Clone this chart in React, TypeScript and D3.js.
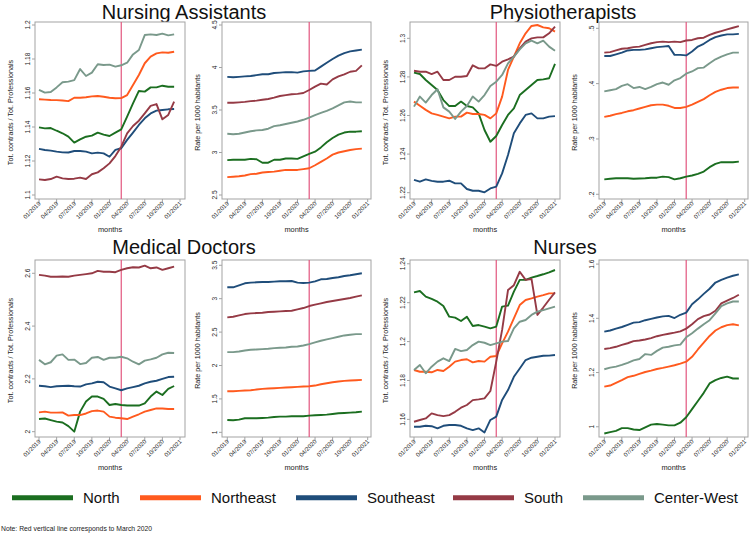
import React from 'react';
import * as d3 from 'd3';

const REGIONS = ['North', 'Northeast', 'Southeast', 'South', 'Center-West'];
const COLORS = ['#1b6e20', '#ff5a1e', '#1f4d7a', '#953a45', '#7a998b'];
const X_TICK_MONTHS = [0, 3, 6, 9, 12, 15, 18, 21, 24];
const X_TICK_LABELS = ['01/2019', '04/2019', '07/2019', '10/2019', '01/2020', '04/2020', '07/2020', '10/2020', '01/2021'];
const MARCH_2020 = 14;
const NOTE = 'Note: Red vertical line corresponds to March 2020';

// Nursing Assistants – ratio
const naRatio: Record<string, number[]> = {
  North: [1.1398, 1.1392, 1.1394, 1.1378, 1.1363, 1.1343, 1.1308, 1.1327, 1.1343, 1.1349, 1.1367, 1.1355, 1.1347, 1.1367, 1.1386, 1.1461, 1.1539, 1.1612, 1.1608, 1.1633, 1.1633, 1.1643, 1.1637, 1.1637],
  Northeast: [1.1563, 1.1561, 1.1559, 1.1558, 1.1556, 1.1552, 1.1572, 1.1572, 1.1575, 1.158, 1.1582, 1.1578, 1.1572, 1.1569, 1.157, 1.1588, 1.1647, 1.1706, 1.1775, 1.1814, 1.1833, 1.1839, 1.1837, 1.1843],
  Southeast: [1.1271, 1.1265, 1.1261, 1.1255, 1.1251, 1.125, 1.1259, 1.1259, 1.1255, 1.1245, 1.1249, 1.1245, 1.1225, 1.1265, 1.1275, 1.1324, 1.1367, 1.1412, 1.1451, 1.148, 1.1496, 1.15, 1.1504, 1.1506],
  South: [1.1092, 1.1088, 1.1094, 1.1108, 1.1098, 1.1094, 1.1096, 1.1102, 1.1094, 1.1122, 1.1133, 1.1157, 1.1186, 1.1229, 1.1284, 1.1363, 1.1406, 1.1437, 1.148, 1.1524, 1.1535, 1.1445, 1.1471, 1.1549],
  'Center-West': [1.1618, 1.1602, 1.1606, 1.1633, 1.1663, 1.1667, 1.1676, 1.1741, 1.17, 1.172, 1.1769, 1.1765, 1.1767, 1.1755, 1.1763, 1.1778, 1.1827, 1.1853, 1.1941, 1.1945, 1.1941, 1.1949, 1.1939, 1.1945],
};
// Nursing Assistants – rate
const naRate: Record<string, number[]> = {
  North: [2.91, 2.915, 2.915, 2.915, 2.925, 2.92, 2.88, 2.88, 2.915, 2.915, 2.93, 2.93, 2.925, 2.955, 2.985, 3.01, 3.06, 3.12, 3.17, 3.21, 3.235, 3.245, 3.245, 3.25],
  Northeast: [2.71, 2.715, 2.72, 2.73, 2.745, 2.75, 2.765, 2.77, 2.775, 2.785, 2.795, 2.795, 2.795, 2.805, 2.815, 2.85, 2.89, 2.93, 2.975, 3.0, 3.015, 3.03, 3.04, 3.045],
  Southeast: [3.89, 3.885, 3.89, 3.895, 3.9, 3.91, 3.92, 3.92, 3.935, 3.94, 3.945, 3.945, 3.94, 3.955, 3.96, 3.965, 4.01, 4.055, 4.1, 4.14, 4.17, 4.19, 4.2, 4.21],
  South: [3.585, 3.585, 3.59, 3.595, 3.605, 3.61, 3.62, 3.63, 3.645, 3.665, 3.675, 3.685, 3.69, 3.7, 3.735, 3.775, 3.81, 3.8, 3.86, 3.895, 3.92, 3.95, 3.96, 4.025],
  'Center-West': [3.22, 3.215, 3.22, 3.235, 3.25, 3.26, 3.265, 3.28, 3.31, 3.32, 3.335, 3.35, 3.365, 3.385, 3.41, 3.44, 3.465, 3.49, 3.52, 3.555, 3.59, 3.6, 3.59, 3.59],
};
// Physiotherapists – ratio
const phRatio: Record<string, number[]> = {
  North: [1.2822, 1.2815, 1.2784, 1.2758, 1.2732, 1.268, 1.2649, 1.2649, 1.2672, 1.2649, 1.2642, 1.2611, 1.2525, 1.2464, 1.2494, 1.2551, 1.2603, 1.2637, 1.2706, 1.2732, 1.2758, 1.2784, 1.2787, 1.2793, 1.2867],
  Northeast: [1.2672, 1.265, 1.2629, 1.2611, 1.2603, 1.2594, 1.2585, 1.2594, 1.2594, 1.2615, 1.2608, 1.2608, 1.2603, 1.2585, 1.2611, 1.2698, 1.2836, 1.2905, 1.2974, 1.3026, 1.3064, 1.3069, 1.3057, 1.3052, 1.3035],
  Southeast: [1.2266, 1.2257, 1.2269, 1.2261, 1.2257, 1.2257, 1.2262, 1.2248, 1.2248, 1.2219, 1.221, 1.221, 1.2202, 1.2222, 1.2231, 1.23, 1.2395, 1.2508, 1.2559, 1.2603, 1.2611, 1.2585, 1.2585, 1.2594, 1.2597],
  South: [1.2832, 1.2827, 1.2827, 1.2815, 1.2827, 1.2784, 1.2784, 1.2801, 1.2801, 1.2805, 1.286, 1.2844, 1.2844, 1.2865, 1.2857, 1.2879, 1.2891, 1.2905, 1.2948, 1.2983, 1.3, 1.3005, 1.3005, 1.3026, 1.306],
  'Center-West': [1.2646, 1.2698, 1.2667, 1.2706, 1.2736, 1.2642, 1.262, 1.2582, 1.262, 1.2649, 1.2698, 1.2672, 1.2706, 1.2753, 1.2775, 1.281, 1.287, 1.2905, 1.2943, 1.2974, 1.2988, 1.2974, 1.2988, 1.2957, 1.2936],
};
// Physiotherapists – rate
const phRate: Record<string, number[]> = {
  North: [0.227, 0.228, 0.229, 0.229, 0.229, 0.228, 0.2285, 0.229, 0.23, 0.23, 0.232, 0.231, 0.227, 0.229, 0.232, 0.234, 0.237, 0.241, 0.249, 0.255, 0.258, 0.258, 0.258, 0.259],
  Northeast: [0.34, 0.342, 0.345, 0.347, 0.35, 0.352, 0.355, 0.358, 0.361, 0.362, 0.362, 0.36, 0.356, 0.356, 0.358, 0.362, 0.367, 0.372, 0.379, 0.385, 0.389, 0.392, 0.393, 0.393],
  Southeast: [0.45, 0.45, 0.453, 0.456, 0.46, 0.461, 0.461, 0.462, 0.464, 0.466, 0.467, 0.468, 0.452, 0.452, 0.451, 0.458, 0.467, 0.472, 0.479, 0.484, 0.487, 0.489, 0.489, 0.49],
  South: [0.456, 0.457, 0.46, 0.463, 0.464, 0.466, 0.467, 0.47, 0.473, 0.475, 0.476, 0.475, 0.476, 0.475, 0.478, 0.479, 0.482, 0.483, 0.488, 0.492, 0.495, 0.498, 0.501, 0.504],
  'Center-West': [0.386, 0.388, 0.39, 0.396, 0.399, 0.392, 0.394, 0.39, 0.394, 0.399, 0.402, 0.398, 0.406, 0.41, 0.418, 0.422, 0.428, 0.429, 0.437, 0.444, 0.449, 0.453, 0.456, 0.456],
};
// Medical Doctors – ratio
const mdRatio: Record<string, number[]> = {
  North: [2.048, 2.05, 2.044, 2.038, 2.035, 2.021, 2.0, 2.076, 2.114, 2.133, 2.133, 2.124, 2.101, 2.105, 2.101, 2.099, 2.099, 2.099, 2.107, 2.133, 2.152, 2.139, 2.162, 2.173],
  Northeast: [2.073, 2.076, 2.072, 2.072, 2.073, 2.061, 2.063, 2.063, 2.069, 2.078, 2.08, 2.076, 2.057, 2.053, 2.051, 2.048, 2.057, 2.066, 2.076, 2.082, 2.088, 2.088, 2.086, 2.086],
  Southeast: [2.174, 2.172, 2.169, 2.172, 2.173, 2.174, 2.172, 2.171, 2.179, 2.183, 2.189, 2.187, 2.171, 2.164, 2.157, 2.164, 2.169, 2.174, 2.183, 2.189, 2.193, 2.2, 2.207, 2.208],
  South: [2.594, 2.591, 2.587, 2.587, 2.588, 2.587, 2.591, 2.594, 2.597, 2.6, 2.609, 2.606, 2.606, 2.604, 2.613, 2.619, 2.623, 2.622, 2.629, 2.619, 2.622, 2.613, 2.619, 2.625],
  'Center-West': [2.272, 2.255, 2.263, 2.288, 2.293, 2.272, 2.273, 2.256, 2.26, 2.28, 2.283, 2.272, 2.28, 2.28, 2.284, 2.278, 2.265, 2.255, 2.269, 2.274, 2.28, 2.293, 2.299, 2.298],
};
// Medical Doctors – rate
const mdRate: Record<string, number[]> = {
  North: [1.185, 1.18, 1.19, 1.21, 1.21, 1.21, 1.215, 1.22, 1.23, 1.235, 1.235, 1.24, 1.24, 1.24, 1.25, 1.255, 1.26, 1.265, 1.275, 1.285, 1.29, 1.295, 1.3, 1.31],
  Northeast: [1.615, 1.615, 1.62, 1.625, 1.63, 1.64, 1.65, 1.655, 1.66, 1.665, 1.67, 1.675, 1.68, 1.685, 1.69, 1.7, 1.72, 1.735, 1.75, 1.76, 1.77, 1.775, 1.78, 1.785],
  Southeast: [3.17, 3.17, 3.2, 3.23, 3.24, 3.245, 3.25, 3.25, 3.255, 3.26, 3.26, 3.265, 3.24, 3.235, 3.24, 3.26, 3.29, 3.295, 3.31, 3.32, 3.34, 3.35, 3.365, 3.38],
  South: [2.72, 2.73, 2.75, 2.77, 2.78, 2.785, 2.79, 2.8, 2.805, 2.81, 2.815, 2.82, 2.84, 2.86, 2.89, 2.91, 2.93, 2.95, 2.965, 2.98, 2.995, 3.01, 3.03, 3.05],
  'Center-West': [2.2, 2.2, 2.21, 2.225, 2.235, 2.24, 2.245, 2.25, 2.26, 2.265, 2.27, 2.28, 2.285, 2.3, 2.32, 2.345, 2.37, 2.39, 2.41, 2.43, 2.45, 2.46, 2.47, 2.47],
};
// Nurses – ratio
const nuRatio: Record<string, number[]> = {
  North: [1.2253, 1.226, 1.2231, 1.2219, 1.2205, 1.2183, 1.2128, 1.2123, 1.2106, 1.2128, 1.208, 1.2085, 1.2077, 1.2068, 1.2077, 1.218, 1.2185, 1.2257, 1.2317, 1.2317, 1.2329, 1.2337, 1.2346, 1.2356, 1.2368],
  Northeast: [1.1854, 1.1845, 1.1845, 1.1842, 1.1854, 1.1849, 1.1871, 1.1897, 1.1905, 1.1909, 1.1893, 1.19, 1.1897, 1.1922, 1.1926, 1.1991, 1.2051, 1.2119, 1.2188, 1.2214, 1.2222, 1.2231, 1.2239, 1.2248, 1.2248],
  Southeast: [1.1562, 1.1562, 1.1567, 1.1565, 1.1554, 1.1567, 1.1571, 1.1571, 1.1567, 1.1554, 1.1545, 1.1554, 1.1533, 1.1597, 1.1614, 1.17, 1.1751, 1.1819, 1.1862, 1.1905, 1.1917, 1.1922, 1.1927, 1.1928, 1.1931],
  South: [1.1588, 1.1597, 1.1605, 1.1631, 1.1622, 1.1617, 1.1622, 1.1639, 1.166, 1.1674, 1.1699, 1.1703, 1.1708, 1.1746, 1.1897, 1.206, 1.2265, 1.229, 1.2359, 1.2317, 1.2322, 1.2137, 1.2175, 1.2215, 1.2253],
  'Center-West': [1.1854, 1.188, 1.1837, 1.1871, 1.1897, 1.1914, 1.19, 1.1962, 1.1951, 1.1957, 1.1982, 1.2, 1.1994, 1.1982, 1.1991, 1.2, 1.2003, 1.2068, 1.2102, 1.2111, 1.2137, 1.2154, 1.2162, 1.2171, 1.218],
};
// Nurses – rate
const nuRate: Record<string, number[]> = {
  North: [0.975, 0.98, 0.985, 0.995, 0.995, 0.99, 0.988, 0.998, 1.008, 1.01, 1.008, 1.005, 1.005, 1.015, 1.035, 1.065, 1.095, 1.125, 1.16, 1.172, 1.18, 1.185, 1.178, 1.178],
  Northeast: [1.148, 1.152, 1.162, 1.172, 1.183, 1.188, 1.195, 1.202, 1.207, 1.213, 1.217, 1.222, 1.227, 1.233, 1.24, 1.258, 1.285, 1.31, 1.335, 1.355, 1.367, 1.375, 1.378, 1.374],
  Southeast: [1.351, 1.355, 1.362, 1.368, 1.376, 1.384, 1.386, 1.393, 1.398, 1.403, 1.407, 1.409, 1.401, 1.413, 1.421, 1.452, 1.47, 1.49, 1.509, 1.532, 1.542, 1.55, 1.557, 1.562],
  South: [1.287, 1.29, 1.295, 1.302, 1.308, 1.316, 1.318, 1.322, 1.327, 1.334, 1.339, 1.343, 1.347, 1.352, 1.362, 1.378, 1.397, 1.408, 1.414, 1.428, 1.455, 1.465, 1.475, 1.487],
  'Center-West': [1.212, 1.218, 1.222, 1.228, 1.236, 1.245, 1.25, 1.268, 1.265, 1.28, 1.292, 1.295, 1.3, 1.303, 1.33, 1.345, 1.362, 1.378, 1.393, 1.418, 1.445, 1.455, 1.462, 1.462],
};

const TITLES = ['Nursing Assistants', 'Physiotherapists', 'Medical Doctors', 'Nurses'];
const Y_TITLE_RATIO = 'Tot. contracts / Tot. Professionals';
const Y_TITLE_RATE = 'Rate per 1000 habitants';

const naRatioTicks = [1.1, 1.12, 1.14, 1.16, 1.18, 1.2];
const naRateTicks = [2.5, 3, 3.5, 4, 4.5];
const phRatioTicks = [1.22, 1.24, 1.26, 1.28, 1.3];
const phRateTicks = [0.2, 0.3, 0.4, 0.5];
const mdRatioTicks = [2, 2.2, 2.4, 2.6];
const mdRateTicks = [1, 1.5, 2, 2.5, 3, 3.5];
const nuRatioTicks = [1.16, 1.18, 1.2, 1.22, 1.24];
const nuRateTicks = [1, 1.2, 1.4, 1.6];

type PanelDef = {
  row: number; pair: number; side: number;
  domain: [number, number]; ticks: number[]; series: Record<string, number[]>;
};

const PANELS: PanelDef[] = [
  { row: 0, pair: 0, side: 0, domain: [1.1, 1.2], ticks: naRatioTicks, series: naRatio },
  { row: 0, pair: 0, side: 1, domain: [2.5, 4.5], ticks: naRateTicks, series: naRate },
  { row: 0, pair: 1, side: 0, domain: [1.2188, 1.3069], ticks: phRatioTicks, series: phRatio },
  { row: 0, pair: 1, side: 1, domain: [0.1987, 0.506], ticks: phRateTicks, series: phRate },
  { row: 1, pair: 0, side: 0, domain: [1.995, 2.639], ticks: mdRatioTicks, series: mdRatio },
  { row: 1, pair: 0, side: 1, domain: [0.99, 3.534], ticks: mdRateTicks, series: mdRate },
  { row: 1, pair: 1, side: 0, domain: [1.153, 1.2404], ticks: nuRatioTicks, series: nuRatio },
  { row: 1, pair: 1, side: 1, domain: [0.977, 1.604], ticks: nuRateTicks, series: nuRate },
];

const FONT = '"Liberation Sans", Arial, Helvetica, sans-serif';
const FRAME = '#a3a3a3';
const RED = '#e2557e';

const fmtTick = (v: number) => String(+v.toFixed(3)).replace(/^0\./, '.');

function Panel({ p }: { p: PanelDef }) {
  const pairOff = p.pair === 0 ? 0 : 375;
  const extra = p.pair === 1 && p.side === 1 ? 2 : 0;
  const fx0 = (p.side === 0 ? 35 : 222) + pairOff + extra;
  const fx1 = (p.side === 0 ? 185 : 371) + pairOff + extra;
  const xa = (p.side === 0 ? 39 : 227.3) + pairOff + extra;
  const xb = (p.side === 0 ? 180 : 367.7) + pairOff + extra;
  const fy0 = p.row === 0 ? 22 : 260;
  const fy1 = p.row === 0 ? 199 : 437;
  const ya = p.row === 0 ? 195 : 433;
  const yb = p.row === 0 ? 25 : 263;

  const x = d3.scaleLinear().domain([0, 24]).range([xa, xb]);
  const y = d3.scaleLinear().domain(p.domain).range([ya, yb]);
  const line = d3.line<number>().x((_, i) => x(i)).y((d) => y(d));

  const yTitleX = fx0 - 22;
  const yMid = (fy0 + fy1) / 2 + 2;

  return (
    <g>
      <rect x={fx0} y={fy0} width={fx1 - fx0} height={fy1 - fy0} fill="white" stroke={FRAME} strokeWidth={1} />
      <line x1={x(MARCH_2020)} x2={x(MARCH_2020)} y1={fy0} y2={fy1} stroke={RED} strokeWidth={1.2} />
      {REGIONS.map((r, k) => (
        <path key={r} d={line(p.series[r]) || ''} fill="none" stroke={COLORS[k]} strokeWidth={1.9} strokeLinejoin="round" />
      ))}
      {p.ticks.map((t) => (
        <g key={t}>
          <line x1={fx0 - 3} x2={fx0} y1={y(t)} y2={y(t)} stroke={FRAME} />
          <text transform={`translate(${fx0 - 5},${y(t)}) rotate(-90)`} textAnchor="middle" fontSize={6.6} fontFamily={FONT} fill="#222">{fmtTick(t)}</text>
        </g>
      ))}
      {X_TICK_MONTHS.map((m, k) => (
        <g key={m}>
          <line x1={x(m)} x2={x(m)} y1={fy1} y2={fy1 + 3} stroke={FRAME} />
          <text transform={`translate(${x(m) + 2},${fy1 + 5}) rotate(-45)`} textAnchor="end" fontSize={6} fontFamily={FONT} fill="#222">{X_TICK_LABELS[k]}</text>
        </g>
      ))}
      <text x={(fx0 + fx1) / 2} y={fy1 + 33} textAnchor="middle" fontSize={7.4} fontFamily={FONT} fill="#222">months</text>
      <text transform={`translate(${yTitleX},${yMid}) rotate(-90)`} textAnchor="middle" fontSize={7.2} fontFamily={FONT} fill="#222">
        {p.side === 0 ? Y_TITLE_RATIO : Y_TITLE_RATE}
      </text>
    </g>
  );
}

const LEGEND_LINE_X = [12, 140, 296, 453, 583];

export default function App() {
  const titlePos = [
    { x: 184, y: 18.5 },
    { x: 563, y: 18.5 },
    { x: 184, y: 254 },
    { x: 565, y: 254 },
  ];
  return (
    <svg width={750} height={534} style={{ position: 'absolute', left: 0, top: 0, background: 'white' }}>
      <rect width={750} height={534} fill="white" />
      {TITLES.map((t, i) => (
        <text key={t} x={titlePos[i].x} y={titlePos[i].y} textAnchor="middle" fontSize={20} fontFamily={FONT} fill="#111">{t}</text>
      ))}
      {PANELS.map((p, i) => <Panel key={i} p={p} />)}
      {REGIONS.map((r, k) => (
        <g key={r}>
          <line x1={LEGEND_LINE_X[k]} x2={LEGEND_LINE_X[k] + 61} y1={497.7} y2={497.7} stroke={COLORS[k]} strokeWidth={5} />
          <text x={LEGEND_LINE_X[k] + 71} y={503} fontSize={15} fontFamily={FONT} fill="#111">{r}</text>
        </g>
      ))}
      <text x={1} y={531} fontSize={6.8} fontFamily={FONT} fill="#222">{NOTE}</text>
    </svg>
  );
}
